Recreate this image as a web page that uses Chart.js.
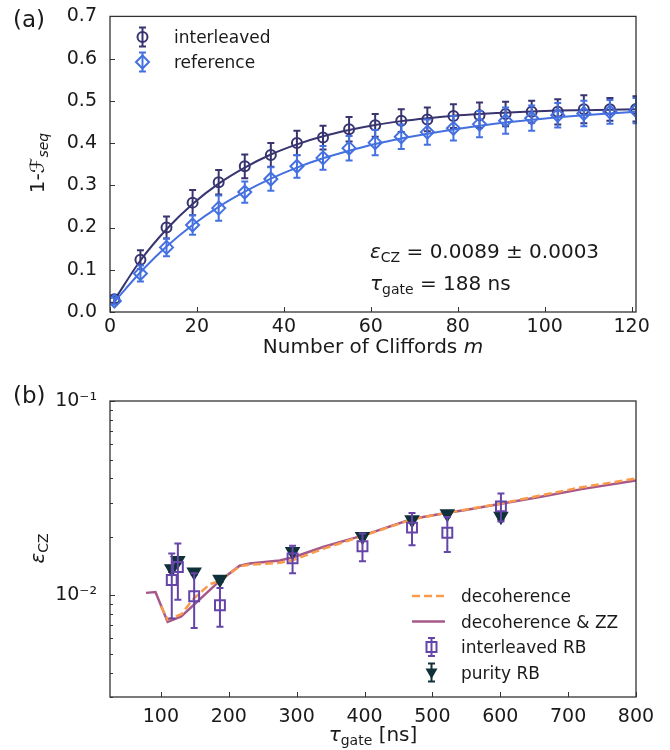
<!DOCTYPE html>
<html><head><meta charset="utf-8">
<script src="https://cdn.jsdelivr.net/npm/chart.js@4.4.0/dist/chart.umd.min.js"></script>
<style>
html,body{margin:0;padding:0;background:#fff;}
#wrap{position:relative;width:670px;height:750px;}
canvas{position:absolute;left:0;}
</style>
</head><body>
<div id="wrap">
<canvas id="ca" width="670" height="375" style="top:0"></canvas>
<canvas id="cb" width="670" height="375" style="top:375px"></canvas>
</div>
<script>
// ---------- Panel (a) data ----------
const cliffords = [1,7,13,19,25,31,37,43,49,55,61,67,73,79,85,91,97,103,109,115,121];
const interleaved = [0.030,0.124,0.200,0.259,0.307,0.345,0.372,0.400,0.413,0.433,0.442,0.453,0.456,0.464,0.466,0.469,0.474,0.474,0.480,0.480,0.481];
const interleavedErr = [0.008,0.022,0.026,0.030,0.029,0.028,0.028,0.029,0.028,0.029,0.027,0.027,0.028,0.028,0.030,0.029,0.026,0.030,0.033,0.027,0.030];
const reference = [0.026,0.091,0.153,0.206,0.246,0.284,0.315,0.345,0.365,0.388,0.401,0.415,0.426,0.435,0.445,0.453,0.459,0.466,0.470,0.474,0.477];
const referenceErr = [0.008,0.019,0.021,0.023,0.030,0.025,0.028,0.027,0.028,0.029,0.030,0.029,0.030,0.029,0.031,0.031,0.030,0.029,0.030,0.028,0.030];
const fitInterleaved = [0.028,0.122,0.196,0.256,0.304,0.342,0.373,0.397,0.416,0.431,0.443,0.452,0.459,0.465,0.469,0.472,0.475,0.477,0.478,0.479,0.480];
const fitReference = [0.024,0.094,0.155,0.206,0.249,0.285,0.316,0.342,0.364,0.382,0.398,0.411,0.422,0.432,0.441,0.449,0.455,0.461,0.466,0.470,0.474];
const xTicksA = [0,20,40,60,80,100,120];
const yTicksA = [0,0.1,0.2,0.3,0.4,0.5,0.6,0.7];

// ---------- Panel (b) data ----------
const tauZZ = [78,92,110,130,187,216,231,275,295,340,397,470,522,549,601,660,720,800];
const decoherenceZZ = [0.0103,0.0104,0.0073,0.0078,0.0119,0.0142,0.0146,0.0151,0.0157,0.0178,0.0203,0.0247,0.0266,0.0275,0.0296,0.0322,0.0352,0.0390];
const tauDec = [100,110,130,148,172,187,216,231,275,295,340,397,470,522,601,660,720,800];
const decoherence = [0.0088,0.0075,0.0080,0.0096,0.0114,0.0119,0.0141,0.0144,0.0147,0.0152,0.0174,0.0202,0.0246,0.0266,0.0297,0.0327,0.0360,0.0399];
const tauRB = [116,125,149,187,294,397,470,522,601];
const interleavedRB = [0.0120,0.0140,0.0099,0.0089,0.0155,0.0179,0.0223,0.0210,0.0287];
const interleavedRBErr = [0.0044,0.0045,0.0031,0.0020,0.0025,0.0029,0.0042,0.0043,0.0047];
const purityRB = [0.0137,0.0151,0.0132,0.0121,0.0168,0.0201,0.0245,0.0263,0.0255];
const purityRBErr = [0.0005,0.0005,0.0004,0.0004,0.0005,0.0006,0.0007,0.0007,0.0010];
const xTicksB = [100,200,300,400,500,600,700,800];
const yTicksB = [0.003,0.004,0.005,0.006,0.007,0.008,0.009,0.01,0.02,0.03,0.04,0.05,0.06,0.07,0.08,0.09,0.1];

// ---------- styles ----------
const FONT = "'DejaVu Sans', sans-serif";
const C_INT = '#37346f', C_REF = '#4470e0';
const C_DEC = '#fa9a4a', C_ZZ = '#a7588b';
const C_IRB = '#6645a8', C_PRB = '#10303a';
const TXT = '#1a1a1a';

const pts = (xs, ys) => xs.map((x,i)=>({x:x, y:ys[i]})).filter(p=>p.y!==null);

function fontFor(p, size){
  const s = p.sub ? size*0.7 : size;
  return (p.i ? 'italic ' : '') + s + 'px ' + FONT;
}
function drawRich(ctx, parts, x, y, size, align){
  let w = 0;
  parts.forEach(p=>{ctx.font = fontFor(p,size); p.w = ctx.measureText(p.t).width; w += p.w;});
  let cx = align==='center' ? x - w/2 : (align==='right' ? x - w : x);
  ctx.textBaseline = 'alphabetic'; ctx.textAlign = 'left';
  parts.forEach(p=>{ctx.font = fontFor(p,size); ctx.fillText(p.t, cx, y + (p.sub ? size*0.22 : 0)); cx += p.w;});
}

const errorBars = {
  id:'errorBars',
  beforeDatasetDraw(chart, args){
    const ds = chart.data.datasets[args.index];
    if(!ds.errors) return;
    const ctx = chart.ctx, a = chart.chartArea, xs = chart.scales.x, ys = chart.scales.y;
    ctx.save();
    ctx.beginPath(); ctx.rect(a.left-1, a.top-1, a.right-a.left+2, a.bottom-a.top+2); ctx.clip();
    ctx.strokeStyle = ds.pointBorderColor; ctx.lineWidth = 2;
    ds.data.forEach((p,i)=>{
      const e = ds.errors[i];
      const x = xs.getPixelForValue(p.x);
      const y1 = ys.getPixelForValue(p.y - e), y2 = ys.getPixelForValue(p.y + e);
      ctx.beginPath();
      ctx.moveTo(x, y1); ctx.lineTo(x, y2);
      ctx.moveTo(x-3.5, y1); ctx.lineTo(x+3.5, y1);
      ctx.moveTo(x-3.5, y2); ctx.lineTo(x+3.5, y2);
      ctx.stroke();
    });
    ctx.restore();
  }
};

const frameTicks = {
  id:'frameTicks',
  afterDraw(chart){
    const ctx = chart.ctx, a = chart.chartArea, xs = chart.scales.x, ys = chart.scales.y;
    const logY = ys.type === 'logarithmic';
    ctx.save();
    ctx.strokeStyle = '#333'; ctx.lineWidth = 1;
    xs.ticks.forEach(t=>{
      const px = Math.round(xs.getPixelForValue(t.value)) + 0.5;
      ctx.beginPath(); ctx.moveTo(px, a.bottom); ctx.lineTo(px, a.bottom-5); ctx.stroke();
    });
    ys.ticks.forEach(t=>{
      let len = 5;
      if(logY){ const l = Math.log10(t.value); if(Math.abs(l-Math.round(l))>1e-6) len = 3; }
      const py = Math.round(ys.getPixelForValue(t.value)) + 0.5;
      ctx.beginPath(); ctx.moveTo(a.left, py); ctx.lineTo(a.left+len, py); ctx.stroke();
    });
    ctx.lineWidth = 1.3; ctx.strokeStyle = '#333';
    ctx.strokeRect(a.left, a.top, a.right-a.left, a.bottom-a.top);
    ctx.restore();
  }
};

function drawErrHandle(ctx, x, y, color, half){
  ctx.strokeStyle = color; ctx.lineWidth = 2;
  ctx.beginPath();
  ctx.moveTo(x, y-half); ctx.lineTo(x, y+half);
  ctx.moveTo(x-3.5, y-half); ctx.lineTo(x+3.5, y-half);
  ctx.moveTo(x-3.5, y+half); ctx.lineTo(x+3.5, y+half);
  ctx.stroke();
}

const tickFont = {family: FONT, size: 19};

// ---------- Chart (a) ----------
const textA = {
  id:'textA',
  afterDraw(chart){
    const ctx = chart.ctx;
    ctx.save(); ctx.fillStyle = TXT;
    drawRich(ctx, [{t:'(a)'}], 13, 27, 23, 'left');
    drawRich(ctx, [{t:'Number of Cliffords '},{t:'m', i:true}], 373, 353, 20, 'center');
    ctx.save(); ctx.translate(44, 163); ctx.rotate(-Math.PI/2);
    drawRich(ctx, [{t:'1-'},{t:'\u2131', i:true},{t:'seq', sub:true, i:true}], 0, 0, 20, 'center');
    ctx.restore();
    drawRich(ctx, [{t:'\u03b5', i:true},{t:'CZ', sub:true},{t:' = 0.0089 \u00b1 0.0003'}], 370, 258, 20, 'left');
    drawRich(ctx, [{t:'\u03c4', i:true},{t:'gate', sub:true},{t:' = 188 ns'}], 370, 290, 20, 'left');
    // legend
    drawErrHandle(ctx, 142.5, 37, C_INT, 9.5);
    ctx.beginPath(); ctx.arc(142.5, 37, 5, 0, Math.PI*2); ctx.lineWidth = 2; ctx.strokeStyle = C_INT; ctx.stroke();
    drawErrHandle(ctx, 142.5, 62, C_REF, 9.5);
    ctx.beginPath(); ctx.moveTo(142.5, 55.5); ctx.lineTo(149, 62); ctx.lineTo(142.5, 68.5); ctx.lineTo(136, 62); ctx.closePath(); ctx.stroke();
    ctx.fillStyle = TXT;
    drawRich(ctx, [{t:'interleaved'}], 174, 43, 17, 'left');
    drawRich(ctx, [{t:'reference'}], 174, 68, 17, 'left');
    ctx.restore();
  }
};

new Chart(document.getElementById('ca'), {
  type:'scatter',
  data:{datasets:[
    {label:'reference fit', data:pts(cliffords, fitReference), showLine:true, pointRadius:0, borderColor:C_REF, borderWidth:2, cubicInterpolationMode:'monotone'},
    {label:'reference', data:pts(cliffords, reference), errors:referenceErr, pointStyle:'rectRot', pointRadius:6.5, pointBorderWidth:2, pointBorderColor:C_REF, pointBackgroundColor:'rgba(255,255,255,0)', showLine:false},
    {label:'interleaved fit', data:pts(cliffords, fitInterleaved), showLine:true, pointRadius:0, borderColor:C_INT, borderWidth:2, cubicInterpolationMode:'monotone'},
    {label:'interleaved', data:pts(cliffords, interleaved), errors:interleavedErr, pointStyle:'circle', pointRadius:5, pointBorderWidth:2, pointBorderColor:C_INT, pointBackgroundColor:'rgba(255,255,255,0)', showLine:false}
  ]},
  options:{
    responsive:false, animation:false, devicePixelRatio:1, events:[],
    layout:{padding:{left:0, right:34, top:14, bottom:0}},
    plugins:{legend:{display:false}, tooltip:{enabled:false}},
    scales:{
      x:{type:'linear', min:0, max:121,
        afterBuildTicks:s=>{s.ticks = xTicksA.map(v=>({value:v}));},
        afterFit:s=>{s.height = 63;},
        grid:{display:false}, border:{display:false},
        ticks:{font:tickFont, color:TXT, padding:-4, maxRotation:0, autoSkip:false, callback:v=>String(v)}},
      y:{type:'linear', min:0, max:0.7,
        afterBuildTicks:s=>{s.ticks = yTicksA.map(v=>({value:v}));},
        afterFit:s=>{s.width = 110;},
        grid:{display:false}, border:{display:false},
        ticks:{font:tickFont, color:TXT, padding:5, autoSkip:false, callback:v=>v.toFixed(1)}}
    }
  },
  plugins:[errorBars, frameTicks, textA]
});

// ---------- Chart (b) ----------
const supMap = {'-':'\u207b','1':'\u00b9','2':'\u00b2','3':'\u00b3'};
const textB = {
  id:'textB',
  afterDraw(chart){
    const ctx = chart.ctx;
    ctx.save(); ctx.fillStyle = TXT;
    drawRich(ctx, [{t:'(b)'}], 13, 28, 23, 'left');
    drawRich(ctx, [{t:'\u03c4', i:true},{t:'gate', sub:true},{t:' [ns]'}], 373, 366, 20, 'center');
    ctx.save(); ctx.translate(44, 173.5); ctx.rotate(-Math.PI/2);
    drawRich(ctx, [{t:'\u03b5', i:true},{t:'CZ', sub:true}], 0, 0, 20, 'center');
    ctx.restore();
    // legend
    const lx = 412, rx = 445, mx = 431.5, tx = 461;
    ctx.lineWidth = 2.5;
    ctx.strokeStyle = C_DEC; ctx.setLineDash([8,4]);
    ctx.beginPath(); ctx.moveTo(lx, 221); ctx.lineTo(rx, 221); ctx.stroke();
    ctx.setLineDash([]);
    ctx.strokeStyle = C_ZZ;
    ctx.beginPath(); ctx.moveTo(lx, 246.5); ctx.lineTo(rx, 246.5); ctx.stroke();
    drawErrHandle(ctx, mx, 272, C_IRB, 9);
    ctx.lineWidth = 2; ctx.strokeStyle = C_IRB; ctx.strokeRect(mx-5, 267, 10, 10);
    drawErrHandle(ctx, mx, 297.5, C_PRB, 9);
    ctx.fillStyle = C_PRB;
    ctx.beginPath(); ctx.moveTo(mx-6, 293.5); ctx.lineTo(mx+6, 293.5); ctx.lineTo(mx, 304); ctx.closePath(); ctx.fill();
    ctx.fillStyle = TXT;
    drawRich(ctx, [{t:'decoherence'}], tx, 227, 17, 'left');
    drawRich(ctx, [{t:'decoherence & ZZ'}], tx, 252.5, 17, 'left');
    drawRich(ctx, [{t:'interleaved RB'}], tx, 278, 17, 'left');
    drawRich(ctx, [{t:'purity RB'}], tx, 303.5, 17, 'left');
    ctx.restore();
  }
};

new Chart(document.getElementById('cb'), {
  type:'scatter',
  data:{datasets:[
    {label:'interleaved RB', data:pts(tauRB, interleavedRB), errors:interleavedRBErr, pointStyle:'rect', pointRadius:7, pointBorderWidth:2, pointBorderColor:C_IRB, pointBackgroundColor:'rgba(255,255,255,0)', showLine:false},
    {label:'purity RB', data:pts(tauRB, purityRB), errors:purityRBErr, pointStyle:'triangle', pointRotation:180, pointRadius:7, pointBorderWidth:2, pointBorderColor:C_PRB, pointBackgroundColor:C_PRB, showLine:false},
    {label:'decoherence', data:pts(tauDec, decoherence), showLine:true, pointRadius:0, borderColor:C_DEC, borderWidth:2.5, borderDash:[8,4], tension:0},
    {label:'decoherence & ZZ', data:pts(tauZZ, decoherenceZZ), showLine:true, pointRadius:0, borderColor:C_ZZ, borderWidth:2.5, tension:0}
  ]},
  options:{
    responsive:false, animation:false, devicePixelRatio:1, events:[],
    layout:{padding:{left:0, right:34, top:26, bottom:0}},
    plugins:{legend:{display:false}, tooltip:{enabled:false}},
    scales:{
      x:{type:'linear', min:25, max:800,
        afterBuildTicks:s=>{s.ticks = xTicksB.map(v=>({value:v}));},
        afterFit:s=>{s.height = 53;},
        grid:{display:false}, border:{display:false},
        ticks:{font:tickFont, color:TXT, padding:1, maxRotation:0, autoSkip:false, callback:v=>String(v)}},
      y:{type:'logarithmic', min:0.003, max:0.1,
        afterBuildTicks:s=>{s.ticks = yTicksB.map(v=>({value:v}));},
        afterFit:s=>{s.width = 110;},
        grid:{display:false}, border:{display:false},
        ticks:{font:tickFont, color:TXT, padding:5, autoSkip:false,
          callback:v=>{const l = Math.log10(v); if(Math.abs(l-Math.round(l))>1e-6) return ''; return '10' + String(Math.round(l)).split('').map(c=>supMap[c]||c).join('');}}}
    }
  },
  plugins:[errorBars, frameTicks, textB]
});
</script>
</body></html>
